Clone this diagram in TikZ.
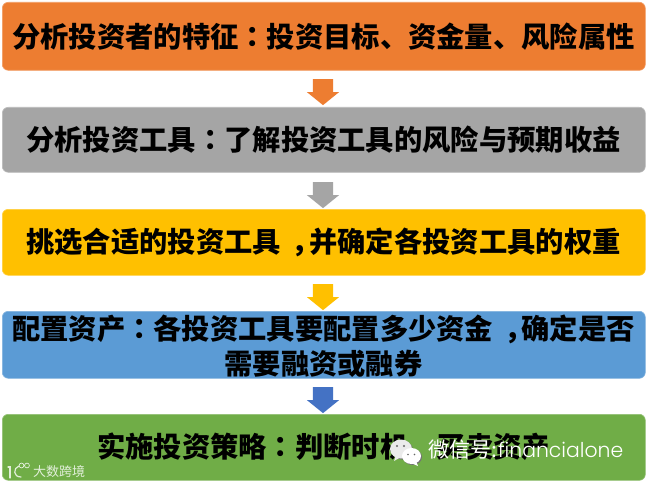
\documentclass[tikz,border=0pt]{standalone}
\usepackage{fontspec}
\usetikzlibrary{shapes.arrows}
\setmainfont{Noto Sans CJK SC}[BoldFont={Noto Sans CJK SC Black}]
\newfontfamily\tcfont{Noto Sans CJK TC}[BoldFont={Noto Sans CJK TC Black}]
\newcommand{\cc}{{\tcfont ：}}
\newcommand{\cm}{\hspace{.38em}，\hspace{-.38em}}
\newfontfamily\latinfont{Poppins Light}
\definecolor{cA}{HTML}{ED7D31}
\definecolor{cB}{HTML}{A5A5A5}
\definecolor{cC}{HTML}{FFC000}
\definecolor{cD}{HTML}{5B9BD5}
\definecolor{cE}{HTML}{70AD47}
\definecolor{cF}{HTML}{4472C4}
\tikzset{
  stepbox/.style={rounded corners=6pt,inner sep=0pt,minimum width=643pt,anchor=north west,draw=#1!75!white,line width=.6pt,fill=#1},
  caption/.style={font=\fontsize{28.3}{34}\selectfont\bfseries,text=black,inner sep=0pt,align=center},
  flow/.style={shape=single arrow,rotate=-90,fill=#1,draw=none,inner xsep=0pt,inner ysep=10pt,minimum height=26pt,single arrow head extend=6pt,single arrow tip angle=102},
  wm/.style={text=white,inner sep=0pt,anchor=west},
  logo/.style={draw=white!80!cE,line width=1.2pt,line cap=round}
}
\begin{document}
\begin{tikzpicture}[x=1pt,y=-1pt]
\useasboundingbox (0,0) rectangle (648,484);
\fill[white] (0,0) rectangle (648,484);
\node[stepbox=cA,minimum height=68pt] (b1) at (2,2) {};
\node[stepbox=cB,minimum height=65pt] (b2) at (2,107) {};
\node[stepbox=cC,minimum height=66pt] (b3) at (2,209) {};
\node[stepbox=cD,minimum height=67pt] (b4) at (2,311) {};
\node[stepbox=cE,minimum height=66pt] (b5) at (2,414) {};
\node[caption] (t1) at (323.5,37) {分析投资者的特征\cc 投资目标、资金量、风险属性};
\node[caption] (t2) at (323.5,140) {分析投资工具\cc 了解投资工具的风险与预期收益};
\node[caption] (t3) at (323.5,242) {挑选合适的投资工具\cm 并确定各投资工具的权重};
\node[caption] (t4a) at (323.5,329) {配置资产\cc 各投资工具要配置多少资金\cm 确定是否};
\node[caption] (t4b) at (323.5,364) {需要融资或融券};
\node[caption] (t5) at (323.5,447) {实施投资策略\cc 判断时机、买卖资产};
\node[flow=cA] (a1) at (323,88) {};
\node[flow=cB] (a2) at (323,191) {};
\node[flow=cC] (a3) at (323,293) {};
\node[flow=cF] (a4) at (323,396) {};
% watermark: WeChat bubbles
\fill[black!55] (402,450) ellipse (11pt and 9.5pt);
\fill[white!92!black] (401,449) ellipse (11pt and 9.5pt);
\fill[white!92!black] (396,455) -- (394,461) -- (401,457) -- cycle;
\fill[black!55] (412.5,457) ellipse (9.5pt and 8pt);
\fill[white] (411.5,456) ellipse (9.5pt and 8pt);
\fill[white] (416,461) -- (418,466) -- (411,463) -- cycle;
\fill[black!60] (397,446) circle (1.1pt) (404,446) circle (1.1pt);
\fill[black!60] (408,454.5) circle (.9pt) (414.5,454.5) circle (.9pt);
\node[wm] (w1) at (428,450) {\fontsize{21}{24}\selectfont 微信号:\hspace{1pt}\latinfont\fontsize{20.4}{22}\selectfont financialone};
\node[wm,text=white!80!cE] (w2) at (33,472) {\fontsize{13}{14}\selectfont 大数跨境};
% watermark: small logo
\draw[logo] (8,467) -- (10,467) -- (10,478);
\draw[logo] (19,466) .. controls (13,468) and (13,477) .. (21,477);
\draw[logo,line width=.7pt] (21.5,465.5) circle (2.4pt) (27,465.5) circle (2.4pt);
\end{tikzpicture}
\end{document}
